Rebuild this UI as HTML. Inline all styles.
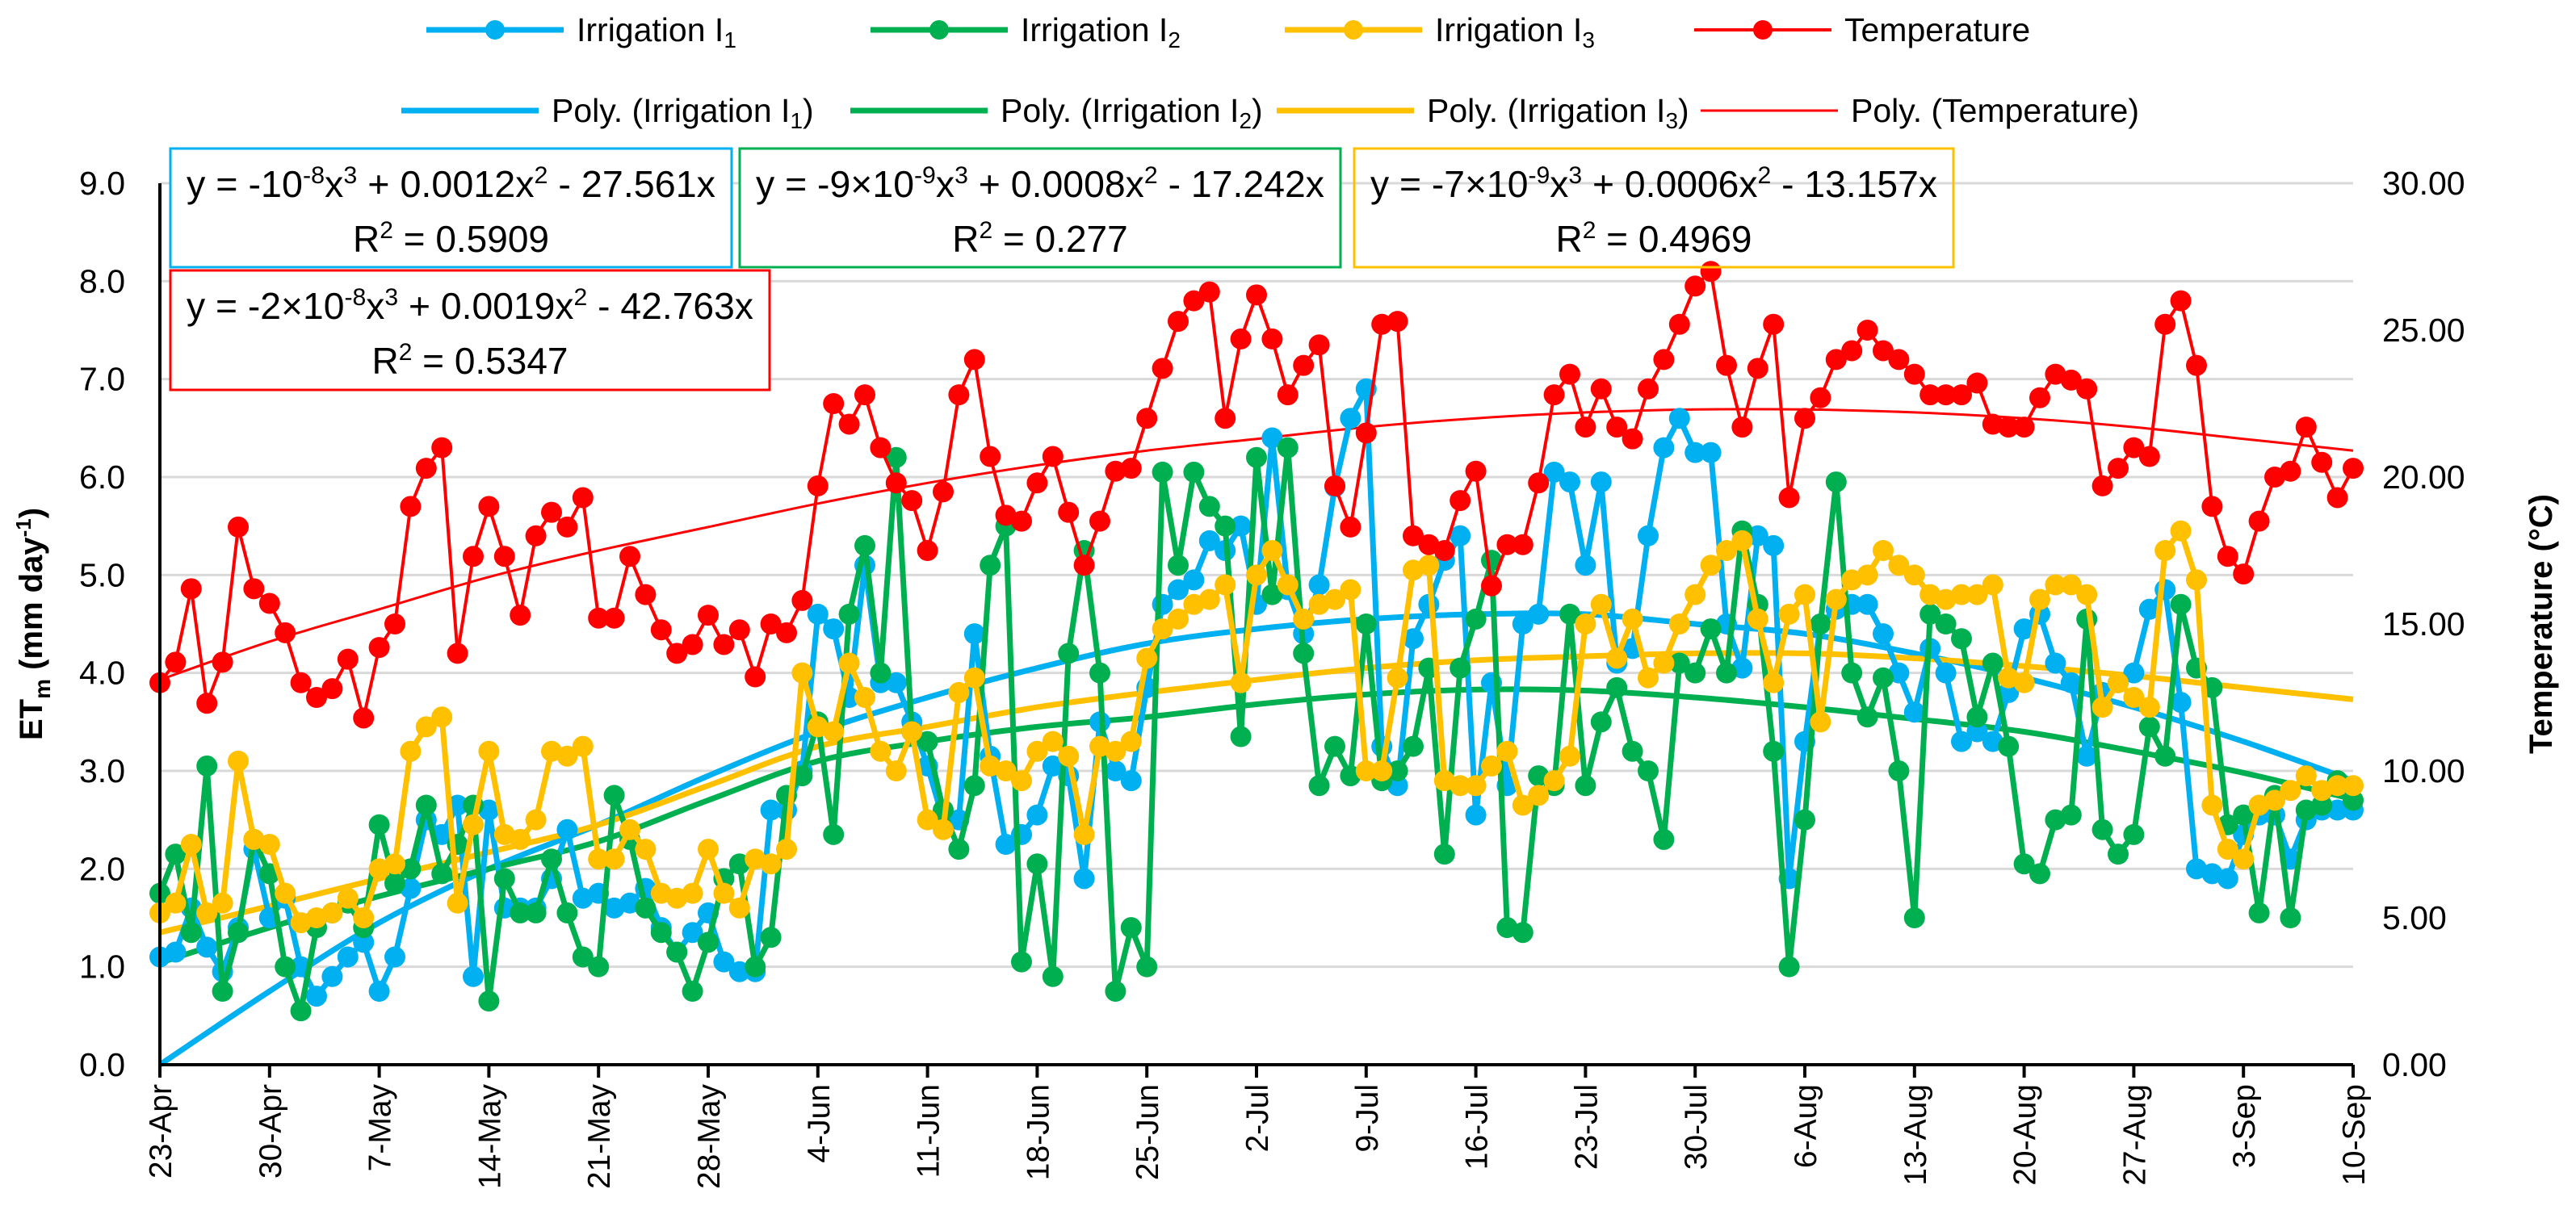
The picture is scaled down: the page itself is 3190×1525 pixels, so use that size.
<!DOCTYPE html>
<html><head><meta charset="utf-8"><style>
body{margin:0;background:#fff;}
svg{display:block;font-family:"Liberation Sans",sans-serif;}
</style></head><body>
<svg id="chart" width="3190" height="1525" viewBox="0 0 3190 1525" xmlns="http://www.w3.org/2000/svg">
<g id="grid"></g>
<g id="trends"></g>
<g id="series"></g>
<g id="axes"></g>
<g id="legend"></g>
<g id="eqs"></g>
</svg>
<script>
const dateLabels=["23-Apr","30-Apr","7-May","14-May","21-May","28-May","4-Jun","11-Jun","18-Jun","25-Jun","2-Jul","9-Jul","16-Jul","23-Jul","30-Jul","6-Aug","13-Aug","20-Aug","27-Aug","3-Sep","10-Sep"];
const leftTicks=["0.0","1.0","2.0","3.0","4.0","5.0","6.0","7.0","8.0","9.0"];
const rightTicks=["0.00","5.00","10.00","15.00","20.00","25.00","30.00"];
const irrigation1=[1.1,1.15,1.6,1.2,0.95,1.4,2.2,1.5,1.7,1.0,0.7,0.9,1.1,1.25,0.75,1.1,1.8,2.5,2.35,2.65,0.9,2.6,1.6,1.6,1.6,1.9,2.4,1.7,1.75,1.6,1.65,1.8,1.4,1.15,1.35,1.55,1.05,0.95,0.95,2.6,2.6,3.0,4.6,4.45,3.75,5.1,3.9,3.9,3.5,3.05,2.5,2.5,4.4,3.15,2.25,2.35,2.55,3.05,2.95,1.9,3.5,3.0,2.9,3.85,4.7,4.85,4.95,5.35,5.25,5.5,4.7,6.4,4.85,4.4,4.9,5.9,6.6,6.9,3.25,2.85,4.35,4.7,5.15,5.4,2.55,3.9,2.85,4.5,4.6,6.05,5.95,5.1,5.95,4.1,4.25,5.4,6.3,6.6,6.25,6.25,4.5,4.05,5.4,5.3,1.9,3.3,4.5,4.65,4.7,4.7,4.4,4.0,3.6,4.25,4.0,3.3,3.4,3.3,3.8,4.45,4.6,4.1,3.9,3.15,3.8,3.9,4.0,4.65,4.85,3.7,2.0,1.95,1.9,2.35,2.55,2.55,2.1,2.5,2.6,2.6,2.6];
const irrigation2=[1.75,2.15,1.35,3.05,0.75,1.35,2.3,1.95,1.0,0.55,1.4,1.55,1.65,1.4,2.45,1.85,2.0,2.65,1.95,2.25,2.65,0.65,1.9,1.55,1.55,2.1,1.55,1.1,1.0,2.75,2.3,1.6,1.35,1.15,0.75,1.25,1.9,2.05,1.0,1.3,2.75,2.95,3.5,2.35,4.6,5.3,4.0,6.2,3.4,3.3,2.6,2.2,2.85,5.1,5.5,1.05,2.05,0.9,4.2,5.25,4.0,0.75,1.4,1.0,6.05,5.1,6.05,5.7,5.5,3.35,6.2,4.8,6.3,4.2,2.85,3.25,2.95,4.5,2.9,3.0,3.25,4.05,2.15,4.05,4.55,5.15,1.4,1.35,2.95,2.85,4.6,2.85,3.5,3.85,3.2,3.0,2.3,4.1,4.0,4.45,4.0,5.45,4.7,3.2,1.0,2.5,4.5,5.95,4.0,3.55,3.95,3.0,1.5,4.6,4.5,4.35,3.55,4.1,3.25,2.05,1.95,2.5,2.55,4.55,2.4,2.15,2.35,3.45,3.15,4.7,4.05,3.85,2.45,2.55,1.55,2.75,1.5,2.6,2.65,2.9,2.7];
const irrigation3=[1.55,1.65,2.25,1.55,1.65,3.1,2.3,2.25,1.75,1.45,1.5,1.55,1.7,1.5,2.0,2.05,3.2,3.45,3.55,1.65,2.45,3.2,2.35,2.3,2.5,3.2,3.15,3.25,2.1,2.1,2.4,2.2,1.75,1.7,1.75,2.2,1.75,1.6,2.1,2.05,2.2,4.0,3.45,3.4,4.1,3.75,3.2,3.0,3.4,2.5,2.4,3.8,3.95,3.05,3.0,2.9,3.2,3.3,3.15,2.35,3.25,3.2,3.3,4.15,4.45,4.55,4.7,4.75,4.9,3.9,5.0,5.25,4.9,4.55,4.7,4.75,4.85,3.0,3.0,3.95,5.05,5.1,2.9,2.85,2.85,3.05,3.2,2.65,2.75,2.9,3.15,4.5,4.7,4.15,4.55,3.95,4.1,4.5,4.8,5.1,5.25,5.35,4.55,3.9,4.6,4.8,3.5,4.75,4.95,5.0,5.25,5.1,5.0,4.8,4.75,4.8,4.8,4.9,3.95,3.9,4.75,4.9,4.9,4.8,3.65,3.9,3.75,3.65,5.25,5.45,4.95,2.65,2.2,2.1,2.65,2.7,2.8,2.95,2.8,2.85,2.85];
const temperature=[13.0,13.7,16.2,12.3,13.7,18.3,16.2,15.7,14.7,13.0,12.5,12.8,13.8,11.8,14.2,15.0,19.0,20.3,21.0,14.0,17.3,19.0,17.3,15.3,18.0,18.8,18.3,19.3,15.2,15.2,17.3,16.0,14.8,14.0,14.3,15.3,14.3,14.8,13.2,15.0,14.7,15.8,19.7,22.5,21.8,22.8,21.0,19.8,19.2,17.5,19.5,22.8,24.0,20.7,18.7,18.5,19.8,20.7,18.8,17.0,18.5,20.2,20.3,22.0,23.7,25.3,26.0,26.3,22.0,24.7,26.2,24.7,22.8,23.8,24.5,19.7,18.3,21.5,25.2,25.3,18.0,17.7,17.5,19.2,20.2,16.3,17.7,17.7,19.8,22.8,23.5,21.7,23.0,21.7,21.3,23.0,24.0,25.2,26.5,27.0,23.8,21.7,23.7,25.2,19.3,22.0,22.7,24.0,24.3,25.0,24.3,24.0,23.5,22.8,22.8,22.8,23.2,21.8,21.7,21.7,22.7,23.5,23.3,23.0,19.7,20.3,21.0,20.7,25.2,26.0,23.8,19.0,17.3,16.7,18.5,20.0,20.2,21.7,20.5,19.3,20.3];
const trend1=[0,0.75,1.45,2.0,2.45,2.95,3.4,3.75,4.05,4.3,4.45,4.55,4.6,4.6,4.5,4.4,4.2,3.95,3.65,3.3,2.9];
const trend2=[1.04,1.4,1.72,2.0,2.28,2.7,3.1,3.3,3.45,3.55,3.68,3.78,3.83,3.82,3.75,3.65,3.53,3.4,3.2,2.98,2.71];
const trend3=[1.35,1.62,1.9,2.17,2.45,2.85,3.25,3.45,3.65,3.8,3.93,4.05,4.13,4.17,4.2,4.2,4.15,4.07,3.97,3.85,3.73];
const trendT=[13.1,14.4,15.5,16.6,17.5,18.3,19.1,19.8,20.4,20.9,21.3,21.7,22.0,22.2,22.3,22.3,22.2,22.0,21.7,21.3,20.9];

const NS="http://www.w3.org/2000/svg";
const X0=198,X1=2914,Y0=1319,Y1=227,NDAYS=140;
const xs=d=>X0+(X1-X0)*d/NDAYS;
const yL=v=>Y0-(Y0-Y1)*v/9;
const yR=v=>Y0-(Y0-Y1)*v/30;
function mk(tag,attrs,parent,txt){const e=document.createElementNS(NS,tag);for(const k in attrs)e.setAttribute(k,attrs[k]);if(txt!==undefined)e.textContent=txt;parent.appendChild(e);return e;}
const grid=document.getElementById('grid'),axes=document.getElementById('axes'),series=document.getElementById('series'),trends=document.getElementById('trends'),legend=document.getElementById('legend'),eqs=document.getElementById('eqs');

leftTicks.forEach((t,i)=>{const y=yL(+t);
 if(i>0){const g=mk('line',{x1:X0,x2:X1,y1:y,y2:y,stroke:'#d9d9d9','stroke-width':3},grid);}
 const l=mk('text',{x:155,y:y+14,'text-anchor':'end','font-size':41,fill:'#000'},axes,t);});
rightTicks.forEach(t=>{const y=yR(+t);
 const l=mk('text',{x:X1+36,y:y+14,'font-size':41,fill:'#000'},axes,t);});
const ax=mk('line',{x1:X0,x2:X0,y1:Y1,y2:Y0,stroke:'#000','stroke-width':4},axes);
const xa=mk('line',{x1:X0-2,x2:X1,y1:Y0,y2:Y0,stroke:'#000','stroke-width':4},axes);
dateLabels.forEach((t,i)=>{const x=xs(i*7);
 const tk=mk('line',{x1:x,x2:x,y1:Y0,y2:Y0+16,stroke:'#000','stroke-width':4},axes);
 const l=mk('text',{x:0,y:0,'text-anchor':'end','font-size':39,transform:`translate(${x+14},${Y0+24}) rotate(-90)`},axes,t);});
const lt=mk('text',{x:0,y:0,'text-anchor':'middle','font-size':40,'font-weight':'bold',transform:`translate(52,${(Y0+Y1)/2}) rotate(-90)`},axes);

lt.innerHTML='ET<tspan font-size="28" dy="10">m</tspan><tspan dy="-10"> (mm day</tspan><tspan font-size="26" dy="-14">-1</tspan><tspan dy="14">)</tspan>';
const rt=mk('text',{x:0,y:0,'text-anchor':'middle','font-size':40,'font-weight':'bold',transform:`translate(3160,${(Y0+Y1)/2}) rotate(-90)`},axes,'Temperature (°C)');


function smoothPath(vals,sc){const P=vals.map((v,i)=>[xs(i*7),Math.min(Y0,sc(v))]);let d=`M${P[0][0].toFixed(1)},${P[0][1].toFixed(1)}`;
 for(let i=0;i<P.length-1;i++){const p0=P[Math.max(0,i-1)],p1=P[i],p2=P[i+1],p3=P[Math.min(P.length-1,i+2)];
  const c1=[p1[0]+(p2[0]-p0[0])/6,p1[1]+(p2[1]-p0[1])/6],c2=[p2[0]-(p3[0]-p1[0])/6,p2[1]-(p3[1]-p1[1])/6];
  d+=`C${c1[0].toFixed(1)},${Math.min(Y0,c1[1]).toFixed(1)} ${c2[0].toFixed(1)},${Math.min(Y0,c2[1]).toFixed(1)} ${p2[0].toFixed(1)},${p2[1].toFixed(1)}`;}
 return d;}
const cfg=[
 {data:irrigation1,trend:trend1,col:'#00b0f0',sc:yL,w:7,r:13,tw:7,name:'irrigation-1'},
 {data:irrigation2,trend:trend2,col:'#00b050',sc:yL,w:7,r:13,tw:7,name:'irrigation-2'},
 {data:irrigation3,trend:trend3,col:'#ffc000',sc:yL,w:7,r:13,tw:7,name:'irrigation-3'},
 {data:temperature,trend:trendT,col:'#ff0000',sc:yR,w:4,r:13,tw:3,name:'temperature'}];
cfg.forEach(s=>{const p=mk('path',{d:smoothPath(s.trend,s.sc),fill:'none',stroke:s.col,'stroke-width':s.tw},trends);});
cfg.forEach(s=>{const g=mk('g',{},series);
 const pts=s.data.map((v,i)=>xs(i).toFixed(1)+','+s.sc(v).toFixed(1)).join(' ');
 const pl=mk('polyline',{points:pts,fill:'none',stroke:s.col,'stroke-width':s.w,'stroke-linejoin':'round'},g);
 s.data.forEach((v,i)=>{const c=mk('circle',{cx:xs(i),cy:s.sc(v),r:s.r,fill:s.col},g);});});

const leg=[
 {x:528,y:37,col:'#00b0f0',w:7,m:true,lbl:'Irrigation I<tspan font-size="28" dy="8">1</tspan>',n:'legend-irrigation-1'},
 {x:1078,y:37,col:'#00b050',w:7,m:true,lbl:'Irrigation I<tspan font-size="28" dy="8">2</tspan>',n:'legend-irrigation-2'},
 {x:1591,y:37,col:'#ffc000',w:7,m:true,lbl:'Irrigation I<tspan font-size="28" dy="8">3</tspan>',n:'legend-irrigation-3'},
 {x:2098,y:37,col:'#ff0000',w:4,m:true,lbl:'Temperature',n:'legend-temperature'},
 {x:497,y:137,col:'#00b0f0',w:7,m:false,lbl:'Poly. (Irrigation I<tspan font-size="28" dy="8">1</tspan><tspan dy="-8">)</tspan>',n:'legend-poly-irrigation-1'},
 {x:1053,y:137,col:'#00b050',w:7,m:false,lbl:'Poly. (Irrigation I<tspan font-size="28" dy="8">2</tspan><tspan dy="-8">)</tspan>',n:'legend-poly-irrigation-2'},
 {x:1581,y:137,col:'#ffc000',w:7,m:false,lbl:'Poly. (Irrigation I<tspan font-size="28" dy="8">3</tspan><tspan dy="-8">)</tspan>',n:'legend-poly-irrigation-3'},
 {x:2106,y:137,col:'#ff0000',w:3,m:false,lbl:'Poly. (Temperature)',n:'legend-poly-temperature'}];
leg.forEach(e=>{const g=mk('g',{},legend);
 mk('line',{x1:e.x,x2:e.x+170,y1:e.y,y2:e.y,stroke:e.col,'stroke-width':e.w},g);
 if(e.m)mk('circle',{cx:e.x+85,cy:e.y,r:12,fill:e.col},g);
 const t=mk('text',{x:e.x+186,y:e.y+14,'font-size':41},g);t.innerHTML=e.lbl;});

const boxes=[
 {x:211,y:184,w:695,h:147,col:'#00b0f0',l1:'y = -10<tspan font-size="30" dy="-17">-8</tspan><tspan dy="17">x</tspan><tspan font-size="30" dy="-17">3</tspan><tspan dy="17"> + 0.0012x</tspan><tspan font-size="30" dy="-17">2</tspan><tspan dy="17"> - 27.561x</tspan>',l2:'R<tspan font-size="30" dy="-17">2</tspan><tspan dy="17"> = 0.5909</tspan>',n:'equation-irrigation-1'},
 {x:916,y:184,w:744,h:147,col:'#00b050',l1:'y = -9×10<tspan font-size="30" dy="-17">-9</tspan><tspan dy="17">x</tspan><tspan font-size="30" dy="-17">3</tspan><tspan dy="17"> + 0.0008x</tspan><tspan font-size="30" dy="-17">2</tspan><tspan dy="17"> - 17.242x</tspan>',l2:'R<tspan font-size="30" dy="-17">2</tspan><tspan dy="17"> = 0.277</tspan>',n:'equation-irrigation-2'},
 {x:1677,y:184,w:742,h:147,col:'#ffc000',l1:'y = -7×10<tspan font-size="30" dy="-17">-9</tspan><tspan dy="17">x</tspan><tspan font-size="30" dy="-17">3</tspan><tspan dy="17"> + 0.0006x</tspan><tspan font-size="30" dy="-17">2</tspan><tspan dy="17"> - 13.157x</tspan>',l2:'R<tspan font-size="30" dy="-17">2</tspan><tspan dy="17"> = 0.4969</tspan>',n:'equation-irrigation-3',nofill:true},
 {x:211,y:335,w:742,h:148,col:'#ff0000',l1:'y = -2×10<tspan font-size="30" dy="-17">-8</tspan><tspan dy="17">x</tspan><tspan font-size="30" dy="-17">3</tspan><tspan dy="17"> + 0.0019x</tspan><tspan font-size="30" dy="-17">2</tspan><tspan dy="17"> - 42.763x</tspan>',l2:'R<tspan font-size="30" dy="-17">2</tspan><tspan dy="17"> = 0.5347</tspan>',n:'equation-temperature'}];
boxes.forEach(b=>{const g=mk('g',{},eqs);
 mk('rect',{x:b.x,y:b.y,width:b.w,height:b.h,fill:b.nofill?'none':'#fff',stroke:b.col,'stroke-width':3},g);
 const t1=mk('text',{x:b.x+b.w/2,y:b.y+60,'text-anchor':'middle','font-size':46,textLength:b.w-40,lengthAdjust:'spacingAndGlyphs'},g);t1.innerHTML=b.l1;
 const t2=mk('text',{x:b.x+b.w/2,y:b.y+128,'text-anchor':'middle','font-size':46},g);t2.innerHTML=b.l2;});
</script>
</body></html>
